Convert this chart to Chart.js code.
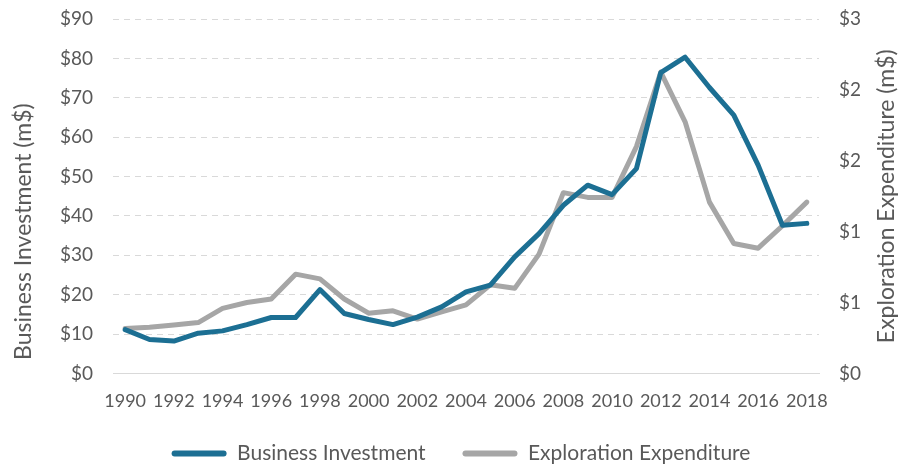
<!DOCTYPE html>
<html>
<head>
<meta charset="utf-8">
<script src="https://cdn.jsdelivr.net/npm/chart.js@4/dist/chart.umd.min.js"></script>
<style>
html,body{margin:0;padding:0;background:#fff;}
#wrap{width:898px;height:464px;position:relative;}
</style>
</head>
<body>
<div id="wrap"><canvas id="c" width="898" height="464"></canvas></div>
<script>
const years = [1990,1991,1992,1993,1994,1995,1996,1997,1998,1999,2000,2001,2002,2003,2004,2005,2006,2007,2008,2009,2010,2011,2012,2013,2014,2015,2016,2017,2018];
const businessInvestment = [11.1,8.6,8.2,10.2,10.8,12.4,14.2,14.2,21.3,15.2,13.7,12.4,14.3,16.9,20.7,22.4,29.6,35.5,42.7,47.8,45.4,52.0,76.4,80.3,72.6,65.6,52.9,37.6,38.1];
const explorationExpenditure = [0.38,0.39,0.41,0.43,0.55,0.60,0.63,0.84,0.80,0.63,0.51,0.53,0.46,0.52,0.58,0.75,0.72,1.01,1.53,1.49,1.49,1.92,2.55,2.13,1.45,1.10,1.06,1.25,1.45];
const leftTicks = {min:0, max:90, step:10};
const rightTicks = {min:0, max:3, step:0.6};
const leftTitle = 'Business Investment (m$)';
const rightTitle = 'Exploration Expenditure (m$)';

const FONT = 'Lato, "Open Sans", sans-serif';
const TXT = '#595959';

const axisTitles = {
  id:'axisTitles',
  afterDraw(chart){
    const ctx = chart.ctx;
    const ca = chart.chartArea;
    ctx.save();
    ctx.font = '23px ' + FONT;
    ctx.fillStyle = TXT;
    ctx.textAlign = 'center';
    ctx.textBaseline = 'middle';
    ctx.save();
    ctx.translate(24, ca.top + (ca.bottom - ca.top) * 0.6);
    ctx.rotate(-Math.PI/2);
    ctx.fillText(leftTitle, 0, 0);
    ctx.restore();
    ctx.save();
    ctx.translate(chart.width - 11, ca.top + (ca.bottom - ca.top) * 0.5);
    ctx.rotate(-Math.PI/2);
    ctx.fillText(rightTitle, 0, 0);
    ctx.restore();
    ctx.restore();
  }
};

new Chart(document.getElementById('c'), {
  type: 'line',
  data: {
    labels: years.map(String),
    datasets: [
      {label:'Business Investment', data:businessInvestment, yAxisID:'y',
       borderColor:'#1c6f93', backgroundColor:'#1c6f93', borderWidth:5, pointRadius:0, tension:0, borderCapStyle:'round', borderJoinStyle:'round'},
      {label:'Exploration Expenditure', data:explorationExpenditure, yAxisID:'y1',
       borderColor:'#a6a6a6', backgroundColor:'#a6a6a6', borderWidth:5, pointRadius:0, tension:0, borderCapStyle:'round', borderJoinStyle:'round'}
    ]
  },
  plugins:[axisTitles],
  options: {
    responsive:false,
    animation:false,
    layout:{padding:{top:0,left:24,right:0,bottom:-10}},
    plugins:{
      tooltip:{enabled:false},
      legend:{
        position:'bottom',
        labels:{
          font:{family:FONT,size:21}, color:TXT,
          boxWidth:55, boxHeight:6, padding:10, useBorderRadius:true, borderRadius:3,
          generateLabels:(chart)=>chart.data.datasets.map((d,i)=>({
            text: i===0 ? d.label + '     ' : d.label,
            fillStyle:d.borderColor, strokeStyle:d.borderColor, lineWidth:0, datasetIndex:i, fontColor:TXT, borderRadius:3
          }))
        }
      }
    },
    scales:{
      x:{
        offset:true,
        grid:{display:false},
        border:{display:true,color:'#d9d9d9',width:1},
        ticks:{font:{family:FONT,size:18}, color:TXT, autoSkip:false, maxRotation:0, padding:9,
          callback:function(v,i){ return i%2===0 ? this.getLabelForValue(v) : ''; }},
        afterFit:(s)=>{ s.height += 12; }
      },
      y:{
        position:'left', min:leftTicks.min, max:leftTicks.max,
        grid:{color:'#d9d9d9', lineWidth:1, drawTicks:false},
        border:{display:false, dash:[6,5]},
        ticks:{stepSize:leftTicks.step, font:{family:FONT,size:19}, color:TXT, padding:20,
          callback:(v)=>'$'+v},
        afterFit:(s)=>{ s.width = 89; s.paddingTop = 19; }
      },
      y1:{
        position:'right', min:rightTicks.min, max:rightTicks.max,
        grid:{drawOnChartArea:false, drawTicks:false},
        border:{display:false},
        ticks:{stepSize:rightTicks.step, font:{family:FONT,size:19}, color:TXT, padding:20,
          callback:(v)=>'$'+Math.round(v)},
        afterFit:(s)=>{ s.width = 79; s.paddingTop = 19; }
      }
    }
  }
});
</script>
</body>
</html>
